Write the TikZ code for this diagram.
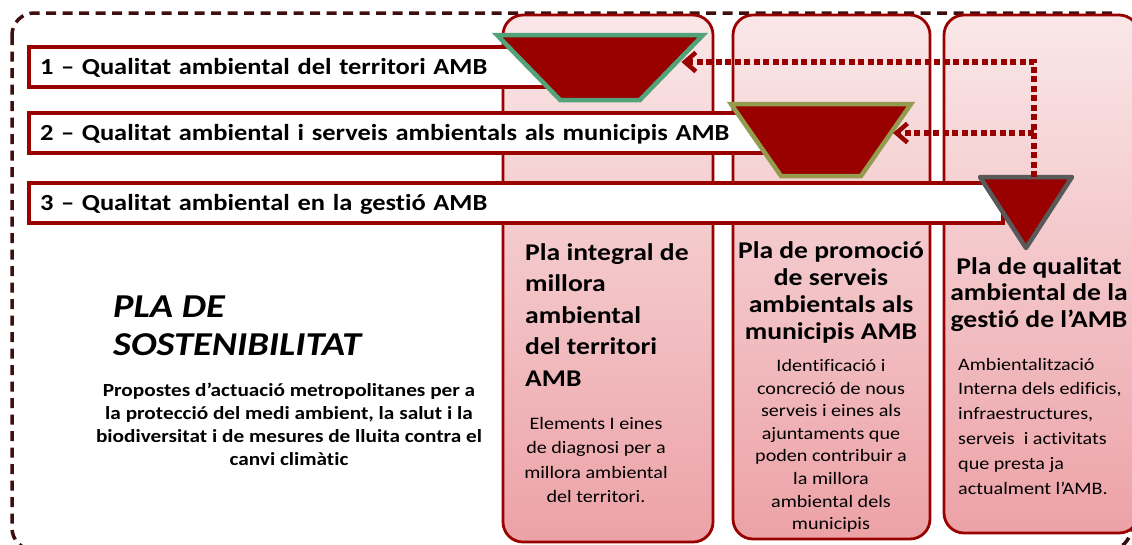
\documentclass[tikz,border=0pt]{standalone}
\usepackage{fontspec}
\setmainfont{Carlito}[FakeStretch=1.15,Ligatures=NoCommon]
\usetikzlibrary{shapes.geometric,arrows.meta,positioning}

\definecolor{ambred}{HTML}{990000}
\definecolor{framebrown}{HTML}{3F0F0F}
\definecolor{pinktop}{HTML}{FAE7E8}
\definecolor{pinkbot}{HTML}{ECA2A7}
\definecolor{funnelgreen}{HTML}{52A27A}
\definecolor{funnelolive}{HTML}{939C4E}
\definecolor{funnelgrey}{HTML}{595959}

\begin{document}
\begin{tikzpicture}[x=1pt,y=-1pt,
    column/.style={draw=ambred, line width=2.8pt, rounded corners=20pt, top color=pinktop, bottom color=pinkbot,
                   anchor=north west, inner sep=0pt, outer sep=0pt},
    bar/.style={draw=ambred, line width=4pt, fill=white, anchor=north west, minimum height=40pt, outer sep=0pt,
                inner xsep=11pt, align=left, text height=17pt, text depth=3pt,
                font=\fontsize{23}{26}\selectfont\bfseries},
    funnel/.style={shape=trapezium, shape border rotate=180, fill=ambred, line width=4.5pt,
                   trapezium stretches=true, inner sep=2pt, outer sep=0pt},
    link/.style={draw=ambred, line width=6.5pt, dash pattern=on 6pt off 3.5pt,
                 -{Straight Barb[length=11pt,width=19pt,line width=4.5pt]}},
    plantitle/.style={inner sep=0pt, font=\fontsize{24}{#1}\selectfont\bfseries},
    plantext/.style={inner sep=0pt, font=\fontsize{17.5}{#1}\selectfont}
]
    \useasboundingbox (0,0) rectangle (1132,544);

    % outer dashed frame
    \draw[framebrown, line width=3.5pt, dash pattern=on 10pt off 6.5pt, rounded corners=22pt]
        (12,13) rectangle (1131,550);

    % the three plans
    \node[column, minimum width=210pt, minimum height=527pt] (col1) at (503,15) {};
    \node[column, minimum width=197pt, minimum height=524pt] (col2) at (733,15) {};
    \node[column, minimum width=195pt, minimum height=518pt] (col3) at (944,15) {};

    % bars
    \node[bar, text width=497pt] (bar1) at (29,47) {1 – Qualitat ambiental del territori AMB};
    \node[bar, text width=719pt] (bar2) at (29,113) {2 – Qualitat ambiental i serveis ambientals als municipis AMB};
    \node[bar, text width=952pt] (bar3) at (29,183) {3 – Qualitat ambiental en la gestió AMB};

    % funnels
    \node[funnel, draw=funnelgreen, trapezium left angle=51.6, trapezium right angle=51.6,
          minimum width=206pt, minimum height=65pt] (t1) at (600,67.5) {};
    \node[funnel, draw=funnelolive, trapezium left angle=58, trapezium right angle=58,
          minimum width=180pt, minimum height=72pt] (t2) at (821,140) {};
    \draw[funnelgrey, fill=ambred, line width=4.5pt, line join=round]
        (980,177) -- (1072,177) -- (1026,248) -- cycle;
    \coordinate (t3) at (1034,177);

    % feedback links
    \coordinate (tip1) at ([shift={(10,-5.5)}]t1.east);
    \coordinate (tip2) at ([shift={(7,-7)}]t2.east);
    \draw[link] (t3) |- (tip1);
    \draw[link] (t3 |- tip2) -- (tip2);

    % left text
    \node[anchor=west, align=left, inner sep=0pt, font=\fontsize{33.4}{38}\selectfont\bfseries\itshape]
        (plan) at (113,326) {PLA DE\\SOSTENIBILITAT};
    \node[align=center, inner sep=0pt, font=\fontsize{18.5}{23}\selectfont\bfseries] (aim) at (289,424.5)
        {Propostes d’actuació metropolitanes per a\\la protecció del medi ambient, la salut i la\\biodiversitat i de mesures de lluita contra el\\canvi climàtic};

    % column texts
    \node[plantitle=31.5, anchor=west, align=left] (title1) at (525,315)
        {Pla integral de\\millora\\ambiental\\del territori\\AMB};
    \node[plantext=24.5, align=center] (text1) at (596,460)
        {Elements I eines\\de diagnosi per a\\millora ambiental\\del territori.};
    \node[plantitle=27, align=center] (title2) at (831,292.5)
        {Pla de promoció\\de serveis\\ambientals als\\municipis AMB};
    \node[plantext=22.6, align=center] (text2) at (831,446)
        {Identificació i\\concreció de nous\\serveis i eines als\\ajuntaments que\\poden contribuir a\\la millora\\ambiental dels\\municipis};
    \node[plantitle=26.5, align=center] (title3) at (1039,294.5)
        {Pla de qualitat\\ambiental de la\\gestió de l’AMB};
    \node[plantext=24.8, anchor=west, align=left] (text3) at (958,426)
        {Ambientalització\\Interna dels edificis,\\infraestructures,\\serveis \ i activitats\\que presta ja\\actualment l’AMB.};
\end{tikzpicture}
\end{document}
